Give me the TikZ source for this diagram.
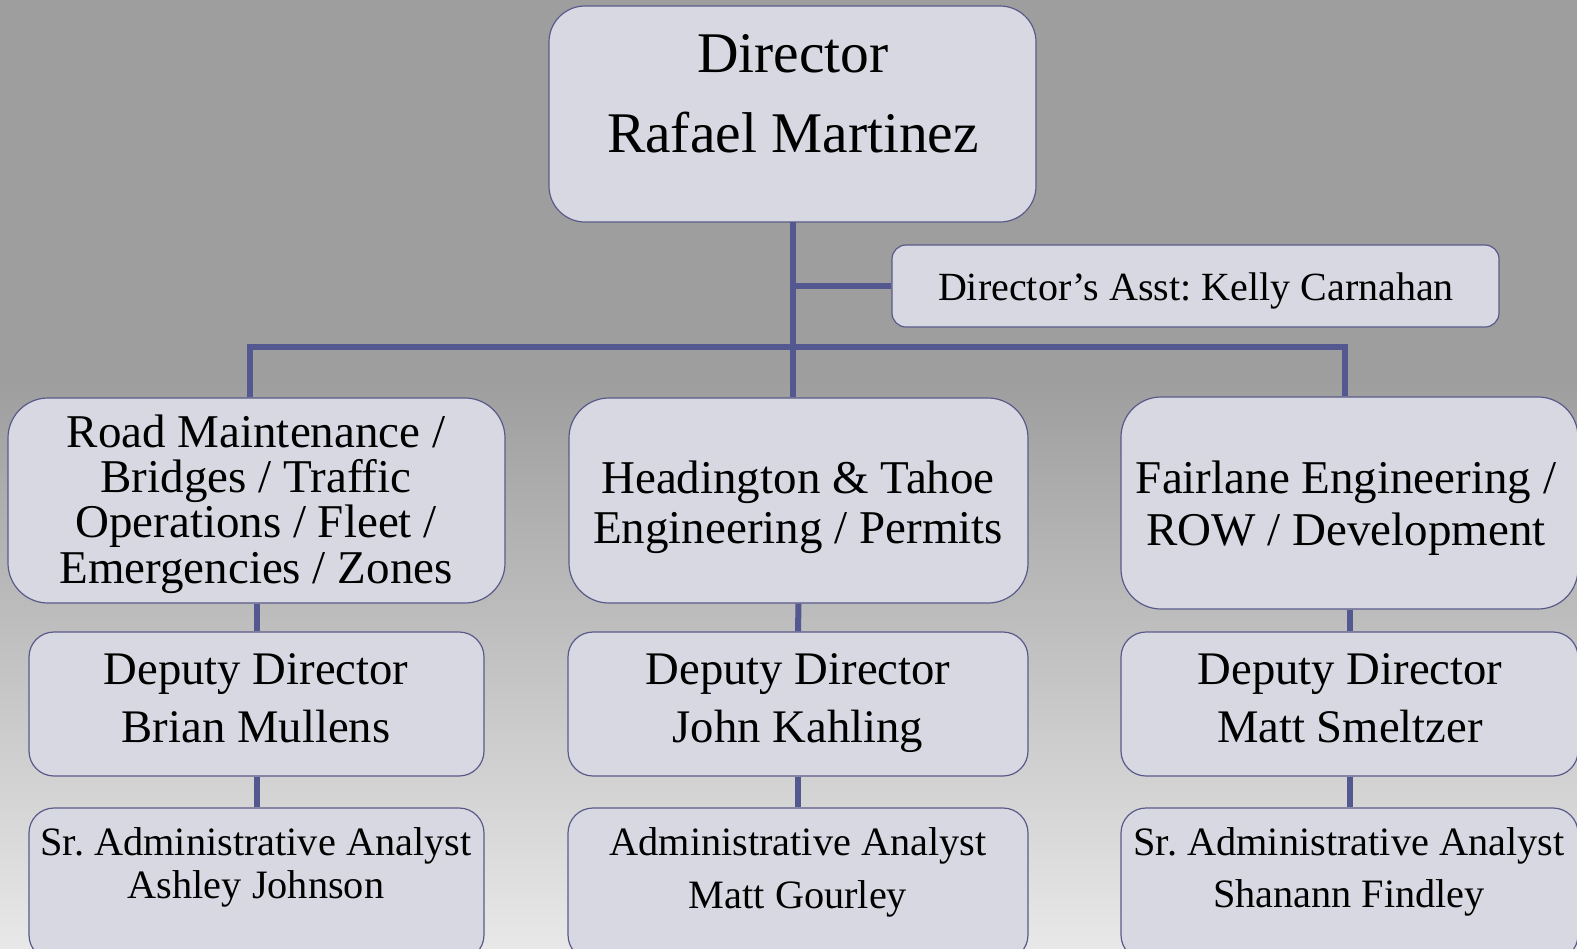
\documentclass[tikz,border=0pt]{standalone}
\usepackage{fontspec}
\setmainfont{Liberation Serif}
\frenchspacing
\definecolor{bgtop}{HTML}{9E9E9E}
\definecolor{bgbot}{HTML}{E8E8E8}
\definecolor{boxfill}{HTML}{D8D8E2}
\definecolor{boxline}{HTML}{5A5A8A}
\definecolor{conn}{HTML}{535891}
\tikzset{
  orgbox/.style={draw=boxline, fill=boxfill, line width=1.2pt, rounded corners=#1, inner sep=0pt, rectangle},
  lbl/.style={align=center, inner sep=0pt, anchor=base, text=black},
  link/.style={draw=conn, line width=6pt, line join=miter},
  bigf/.style={font=\fontsize{57.5}{80}\selectfont},
}
\begin{document}
\begin{tikzpicture}[x=1pt,y=-1pt]
\useasboundingbox (0,0) rectangle (1577,948);
\fill[bgtop] (0,0) rectangle (1577,381);
\shade[top color=bgtop, bottom color=bgbot] (0,380) rectangle (1577,948);

% boxes
\node[orgbox=36pt, minimum width=487pt, minimum height=216pt] (dir) at (792.5,114) {};
\node[orgbox=14pt, minimum width=607pt, minimum height=82pt] (asst) at (1195.5,286) {};
\node[orgbox=40pt, minimum width=497pt, minimum height=205pt] (l2a) at (256.5,500.5) {};
\node[orgbox=40pt, minimum width=459pt, minimum height=205pt] (l2b) at (798.5,500.5) {};
\node[orgbox=40pt, minimum width=457pt, minimum height=212pt] (l2c) at (1349.5,503) {};
\node[orgbox=25pt, minimum width=455pt, minimum height=144pt] (l3a) at (256.5,704) {};
\node[orgbox=25pt, minimum width=460pt, minimum height=144pt] (l3b) at (798,704) {};
\node[orgbox=25pt, minimum width=457pt, minimum height=144pt] (l3c) at (1349.5,704) {};
\node[orgbox=25pt, minimum width=455pt, minimum height=152pt] (l4a) at (256.5,884) {};
\node[orgbox=25pt, minimum width=460pt, minimum height=152pt] (l4b) at (798,884) {};
\node[orgbox=25pt, minimum width=457pt, minimum height=152pt] (l4c) at (1349.5,884) {};

% connectors
\coordinate (busL) at (250,347);
\coordinate (busR) at (1345,347);
\coordinate (dirout) at (793,222);
\draw[link] (dirout) -- (dirout |- l2b.north);
\draw[link] (dirout |- asst.west) -- (asst.west);
\draw[link] (busL |- l2a.north) -- (busL) -- (busR) -- (busR |- l2c.north);
\draw[link] (l2a.south) -- (l3a.north);
\draw[link] (l3a.south) -- (l4a.north);
\draw[link] (l2b.south) -- (l3b.north);
\draw[link] (l3b.south) -- (l4b.north);
\draw[link] (l2c.south) -- (l3c.north);
\draw[link] (l3c.south) -- (l4c.north);

% texts
\node[lbl, bigf] (dirT) at (793,152) {Director\\Rafael Martinez};
\node[lbl, font=\fontsize{40}{48}\selectfont] (asstT) at (1196,300) {Director’s Asst: Kelly Carnahan};
\node[lbl, font=\fontsize{47}{45.3}\selectfont] (l2aT) at (256,583) {Road Maintenance /\\Bridges / Traffic\\Operations / Fleet /\\Emergencies / Zones};
\node[lbl, font=\fontsize{47}{50}\selectfont] (l2bT) at (798,543) {Headington \& Tahoe\\Engineering / Permits};
\node[lbl, font=\fontsize{47}{52}\selectfont] (l2cT) at (1346,545) {Fairlane Engineering /\\ROW / Development};
\node[lbl, font=\fontsize{46.7}{58}\selectfont] (l3aT) at (256,742) {Deputy Director\\Brian Mullens};
\node[lbl, font=\fontsize{46.7}{58}\selectfont] (l3bT) at (798,742) {Deputy Director\\John Kahling};
\node[lbl, font=\fontsize{46.7}{58}\selectfont] (l3cT) at (1350,742) {Deputy Director\\Matt Smeltzer};
\node[lbl, font=\fontsize{40.3}{43}\selectfont] (l4aT) at (256,898) {Sr. Administrative Analyst\\Ashley Johnson};
\node[lbl, font=\fontsize{40.3}{53}\selectfont] (l4bT) at (798,908) {Administrative Analyst\\Matt Gourley};
\node[lbl, font=\fontsize{40.3}{52}\selectfont] (l4cT) at (1349,907) {Sr. Administrative Analyst\\Shanann Findley};
\end{tikzpicture}
\end{document}
